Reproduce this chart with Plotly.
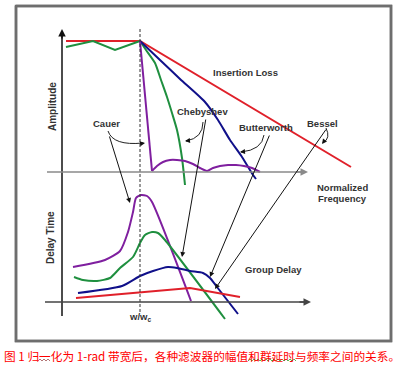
import plotly.graph_objects as go

# Diagram coordinates (pixel space of the schematic: x right, y down)
frame_x = [16, 391, 391, 16, 16]
frame_y = [6, 6, 341, 341, 6]

# Amplitude panel curves
ins_loss_x = [66, 140, 351]
ins_loss_y = [41, 41, 167]

cheb_amp_x = [66, 93, 115, 140, 146, 155, 161, 167, 172, 177, 182, 185]
cheb_amp_y = [47, 41, 50, 41, 50, 63, 80, 97, 113, 130, 158, 185]

butter_amp_x = [140, 160, 180, 205, 218, 230, 242, 253, 256]
butter_amp_y = [41, 60, 79, 102, 120, 140, 157, 175, 179]

cauer_drop_x = [140, 152]
cauer_drop_y = [41, 171]
cauer_ripple_x = [152, 157, 163, 170, 177, 185, 193, 200, 207, 213, 220, 228, 236, 244, 252, 260]
cauer_ripple_y = [171, 166, 162, 160, 160, 161, 164, 168, 171, 168, 166, 165, 165, 166, 168, 172]

# Group-delay panel curves
cauer_del_x = [73, 105, 120, 128, 133, 136, 141, 147, 152, 191]
cauer_del_y = [267, 260, 251, 232, 212, 198, 195, 196, 202, 301]

cheb_del_x = [74, 83, 97, 110, 120, 133, 140, 145, 152, 158, 165, 225]
cheb_del_y = [277, 280, 281, 278, 268, 257, 243, 235, 232, 233, 240, 319]

butter_del_x = [78, 122, 140, 153, 168, 177, 190, 203, 210, 217, 238]
butter_del_y = [293, 286, 276, 271, 267, 268, 271, 273, 278, 287, 314]

bessel_del_x = [76, 190, 240]
bessel_del_y = [298, 288, 297]

PURPLE = "#7f1f9f"
GREEN = "#1f8f3f"
BLUE = "#10108a"
RED = "#e0202a"
TXT = "#333333"
FRAME = "#6e6e6e"

fig = go.Figure()

def curve(x, y, color, shape="spline", width=2):
    fig.add_trace(go.Scatter(x=x, y=y, mode="lines", hoverinfo="skip", cliponaxis=False,
                             line=dict(color=color, width=width, shape=shape, smoothing=0.6)))

shapes = []
# outer frame
shapes.append(dict(type="rect", xref="x", yref="y", x0=frame_x[0], y0=frame_y[0], x1=frame_x[2], y1=frame_y[2],
                   line=dict(color=FRAME, width=2.5), fillcolor="rgba(0,0,0,0)", layer="above"))
# dashed cutoff line
shapes.append(dict(type="line", x0=140, y0=29, x1=140, y1=312, line=dict(color="#333", width=1, dash="3px,2px")))
# vertical axis
shapes.append(dict(type="line", x0=62, y0=34, x1=62, y1=316, line=dict(color="#111", width=1.5)))
# amplitude horizontal axis
shapes.append(dict(type="line", x0=47, y0=172, x1=303, y1=172, line=dict(color="#8a8a8a", width=1.5)))
# delay horizontal axis
shapes.append(dict(type="line", x0=45, y0=302, x1=305, y1=302, line=dict(color="#444", width=1.5)))
# curved callout arrows
for p in ["M108,131 Q113,146 143,143", "M203,122 Q203,138 186,141",
          "M264,135 Q262,150 241,152", "M326,128 Q331,138 323,143"]:
    shapes.append(dict(type="path", path=p, line=dict(color="#222", width=1)))
# spell-check squiggles under caption
squig_a = "M38,361 L40,359 L42,361 L44,359 L46,361 L48,359 L50,361"
squig_b = "M248,361 L250,359 L252,361 L254,359 L256,361 L258,359 L260,361 L262,359 L264,361 L266,359 L268,361 L270,359 L272,361 L274,359 L276,361 L278,359 L280,361 L282,359 L284,361 L286,359 L288,361 L290,359 L292,361 L294,359 L296,361"
shapes.append(dict(type="path", path=squig_a, line=dict(color="#a05050", width=0.8)))
shapes.append(dict(type="path", path=squig_b, line=dict(color="#30a030", width=0.8)))

fig.update_layout(shapes=shapes)

curve(frame_x, frame_y, FRAME, "linear", 2.5)
curve(ins_loss_x, ins_loss_y, RED, "linear")
curve(cheb_amp_x[:4], cheb_amp_y[:4], GREEN, "linear")
curve(cheb_amp_x[3:], cheb_amp_y[3:], GREEN)
curve(butter_amp_x, butter_amp_y, BLUE)
curve(cauer_drop_x, cauer_drop_y, PURPLE, "linear")
curve(cauer_ripple_x, cauer_ripple_y, PURPLE)
curve(cauer_del_x, cauer_del_y, PURPLE)
curve(cheb_del_x, cheb_del_y, GREEN)
curve(butter_del_x, butter_del_y, BLUE)
curve(bessel_del_x, bessel_del_y, RED, "linear")

ann = []
def arrow(x0, y0, x1, y1, color="#111", w=1, size=1, head=2):
    ann.append(dict(x=x1, y=y1, ax=x0, ay=y0, xref="x", yref="y", axref="x", ayref="y",
                    text="", showarrow=True, arrowhead=head, arrowsize=size, arrowwidth=w,
                    arrowcolor=color, standoff=0, startstandoff=0, font=dict(size=1)))

# axis arrowheads
arrow(62, 40, 62, 29, "#111", 1.5)
arrow(295, 172, 308, 172, "#8a8a8a", 1.5)
arrow(298, 302, 311, 302, "#444", 1.5)
# straight leader lines
arrow(109, 135, 130, 203)
arrow(206, 118, 182, 257)
arrow(270, 134, 210, 277)
arrow(327, 128, 215, 289)
# heads of curved arrows
arrow(139, 144, 145, 143)
arrow(190, 140.5, 185, 141)
arrow(246, 151.5, 240, 152)
arrow(325, 140, 322, 144)

def label(x, y, t, size=9.5, angle=0, color=TXT, anchor="center", family="Liberation Sans, Arial, sans-serif", bold=True):
    ann.append(dict(x=x, y=y, xref="x", yref="y", text=(f"<b>{t}</b>" if bold else t), showarrow=False,
                    textangle=angle, xanchor=anchor, yanchor="middle",
                    font=dict(size=size, color=color, family=family)))

label(245, 72, "Insertion Loss")
label(202, 111, "Chebyshev")
label(106, 123, "Cauer")
label(266, 127, "Butterworth")
label(322, 123, "Bessel")
label(52, 107, "Amplitude", size=10, angle=-90)
label(50, 238, "Delay Time", size=10, angle=-90)
label(342, 187, "Normalized")
label(342, 198, "Frequency")
label(273, 269, "Group Delay")
label(140, 317, "w/w<sub>c</sub>", size=9.5)
label(2, 355, "图 1 归一化为 1-rad 带宽后，各种滤波器的幅值和群延时与频率之间的关系。",
      size=11.7, color="#ff0000", anchor="left", family="Noto Sans CJK SC", bold=False)

fig.update_layout(annotations=ann)

fig.update_layout(
    width=403, height=369, margin=dict(l=0, r=0, t=0, b=0),
    paper_bgcolor="white", plot_bgcolor="white", showlegend=False,
    xaxis=dict(range=[0, 403], visible=False, fixedrange=True),
    yaxis=dict(range=[369, 0], visible=False, fixedrange=True),
)
fig.write_html("out.html", config={"displayModeBar": False},
               post_script="document.body.style.margin='0';document.body.style.overflow='hidden';")
